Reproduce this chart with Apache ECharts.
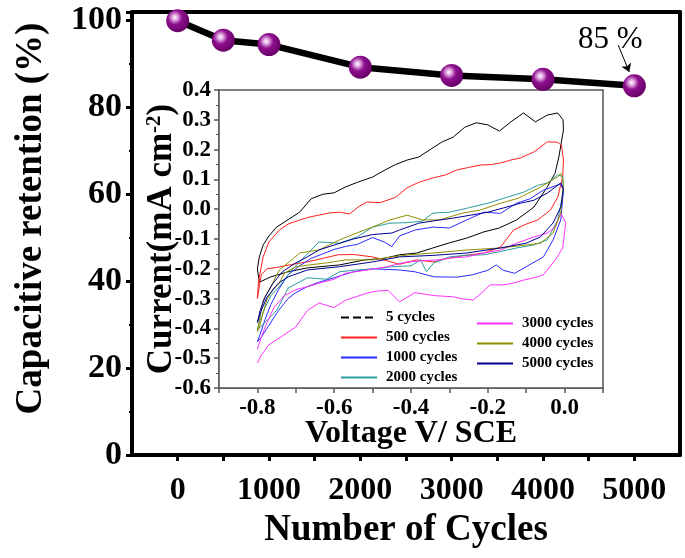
<!DOCTYPE html>
<html>
<head>
<meta charset="utf-8">
<script src="https://cdn.jsdelivr.net/npm/echarts@6/dist/echarts.min.js"></script>
<style>
html, body { margin: 0; padding: 0; background: #fff; }
#chart { width: 685px; height: 558px; }
</style>
</head>
<body>
<div id="chart"></div>
<script>
// retention vs cycles (main plot)
var cycles = [0, 500, 1000, 2000, 3000, 4000, 5000];
var retention = [100, 95.5, 94.5, 89.3, 87.4, 86.5, 85];

// CV loops for the inset, [V, mA cm-2]
var cv5 = [[-0.8,-0.2],[-0.795,-0.16],[-0.785,-0.12],[-0.77,-0.09],[-0.75,-0.06],[-0.72,-0.035],[-0.69,-0.01],[-0.66,0.035],[-0.63,0.05],[-0.6,0.055],[-0.57,0.075],[-0.54,0.09],[-0.5,0.108],[-0.47,0.13],[-0.44,0.15],[-0.41,0.165],[-0.38,0.175],[-0.35,0.2],[-0.32,0.225],[-0.29,0.242],[-0.26,0.275],[-0.23,0.29],[-0.2,0.283],[-0.17,0.262],[-0.14,0.293],[-0.107,0.323],[-0.076,0.293],[-0.045,0.316],[-0.018,0.323],[-0.004,0.3],[-0.003,0.266],[-0.015,0.175],[-0.025,0.12],[-0.045,0.075],[-0.08,0.007],[-0.125,-0.036],[-0.17,-0.063],[-0.21,-0.076],[-0.255,-0.097],[-0.3,-0.113],[-0.343,-0.13],[-0.385,-0.147],[-0.43,-0.153],[-0.47,-0.165],[-0.52,-0.17],[-0.586,-0.187],[-0.67,-0.197],[-0.72,-0.21],[-0.765,-0.227],[-0.795,-0.245],[-0.8,-0.2]];
var cv500 = [[-0.8,-0.3],[-0.797,-0.24],[-0.785,-0.16],[-0.77,-0.11],[-0.743,-0.07],[-0.72,-0.05],[-0.69,-0.036],[-0.66,-0.025],[-0.64,-0.02],[-0.61,-0.012],[-0.586,-0.01],[-0.56,-0.016],[-0.535,0.01],[-0.515,0.024],[-0.48,0.022],[-0.44,0.04],[-0.41,0.072],[-0.38,0.09],[-0.343,0.105],[-0.31,0.115],[-0.28,0.132],[-0.25,0.14],[-0.22,0.148],[-0.19,0.15],[-0.167,0.155],[-0.14,0.165],[-0.115,0.172],[-0.08,0.192],[-0.045,0.226],[-0.02,0.225],[-0.008,0.215],[-0.003,0.165],[-0.005,0.108],[-0.018,0.04],[-0.037,-0.003],[-0.07,-0.036],[-0.1,-0.05],[-0.133,-0.07],[-0.167,-0.127],[-0.21,-0.147],[-0.26,-0.155],[-0.3,-0.164],[-0.343,-0.177],[-0.385,-0.17],[-0.43,-0.185],[-0.47,-0.17],[-0.5,-0.16],[-0.55,-0.152],[-0.59,-0.153],[-0.63,-0.165],[-0.67,-0.177],[-0.71,-0.185],[-0.743,-0.194],[-0.775,-0.2],[-0.79,-0.22],[-0.8,-0.3]];
var cv1000 = [[-0.8,-0.445],[-0.793,-0.42],[-0.78,-0.37],[-0.765,-0.32],[-0.745,-0.27],[-0.72,-0.22],[-0.69,-0.19],[-0.66,-0.165],[-0.63,-0.15],[-0.6,-0.135],[-0.57,-0.125],[-0.54,-0.118],[-0.5,-0.095],[-0.47,-0.11],[-0.45,-0.125],[-0.43,-0.09],[-0.39,-0.07],[-0.343,-0.06],[-0.3,-0.063],[-0.255,-0.036],[-0.21,-0.01],[-0.167,-0.014],[-0.125,0.02],[-0.09,0.035],[-0.055,0.064],[-0.025,0.078],[-0.01,0.085],[-0.003,0.06],[-0.01,-0.036],[-0.03,-0.103],[-0.055,-0.16],[-0.1,-0.193],[-0.13,-0.215],[-0.16,-0.205],[-0.178,-0.187],[-0.2,-0.205],[-0.24,-0.22],[-0.28,-0.228],[-0.34,-0.227],[-0.39,-0.21],[-0.43,-0.204],[-0.5,-0.2],[-0.55,-0.21],[-0.6,-0.23],[-0.64,-0.245],[-0.67,-0.26],[-0.7,-0.28],[-0.72,-0.3],[-0.745,-0.34],[-0.77,-0.39],[-0.79,-0.43],[-0.8,-0.445]];
var cv2000 = [[-0.8,-0.405],[-0.795,-0.38],[-0.78,-0.33],[-0.765,-0.29],[-0.743,-0.26],[-0.72,-0.22],[-0.7,-0.19],[-0.67,-0.15],[-0.64,-0.11],[-0.61,-0.112],[-0.586,-0.114],[-0.54,-0.093],[-0.5,-0.06],[-0.455,-0.047],[-0.41,-0.045],[-0.37,-0.04],[-0.343,-0.013],[-0.3,-0.01],[-0.255,0.003],[-0.2,0.02],[-0.15,0.04],[-0.107,0.057],[-0.07,0.08],[-0.045,0.088],[-0.018,0.115],[-0.005,0.11],[-0.003,0.06],[-0.018,-0.036],[-0.045,-0.103],[-0.08,-0.12],[-0.125,-0.13],[-0.17,-0.143],[-0.21,-0.153],[-0.26,-0.155],[-0.3,-0.16],[-0.34,-0.18],[-0.36,-0.21],[-0.375,-0.17],[-0.4,-0.19],[-0.45,-0.193],[-0.5,-0.2],[-0.55,-0.205],[-0.586,-0.21],[-0.62,-0.235],[-0.67,-0.23],[-0.72,-0.265],[-0.75,-0.34],[-0.78,-0.38],[-0.8,-0.405]];
var cv3000 = [[-0.8,-0.47],[-0.79,-0.43],[-0.775,-0.38],[-0.757,-0.33],[-0.73,-0.29],[-0.7,-0.27],[-0.67,-0.26],[-0.63,-0.245],[-0.6,-0.235],[-0.57,-0.215],[-0.52,-0.205],[-0.47,-0.195],[-0.41,-0.177],[-0.36,-0.172],[-0.33,-0.17],[-0.3,-0.164],[-0.255,-0.16],[-0.21,-0.147],[-0.167,-0.137],[-0.125,-0.114],[-0.08,-0.093],[-0.045,-0.08],[-0.025,-0.06],[-0.01,-0.013],[0.003,-0.046],[-0.005,-0.13],[-0.024,-0.17],[-0.055,-0.22],[-0.08,-0.23],[-0.107,-0.238],[-0.14,-0.25],[-0.16,-0.254],[-0.194,-0.254],[-0.215,-0.28],[-0.238,-0.305],[-0.27,-0.3],[-0.29,-0.294],[-0.34,-0.29],[-0.39,-0.28],[-0.43,-0.311],[-0.46,-0.272],[-0.49,-0.275],[-0.515,-0.282],[-0.57,-0.305],[-0.6,-0.33],[-0.64,-0.315],[-0.67,-0.34],[-0.7,-0.395],[-0.74,-0.43],[-0.77,-0.455],[-0.79,-0.49],[-0.8,-0.516]];
var cv4000 = [[-0.8,-0.41],[-0.793,-0.36],[-0.785,-0.305],[-0.77,-0.27],[-0.757,-0.24],[-0.743,-0.204],[-0.72,-0.18],[-0.69,-0.147],[-0.64,-0.137],[-0.586,-0.103],[-0.542,-0.08],[-0.5,-0.06],[-0.455,-0.036],[-0.41,-0.02],[-0.37,-0.036],[-0.325,-0.036],[-0.3,-0.026],[-0.265,-0.013],[-0.22,-0.003],[-0.167,0.02],[-0.12,0.037],[-0.063,0.074],[-0.018,0.108],[-0.01,0.12],[-0.003,0.09],[-0.01,-0.013],[-0.03,-0.08],[-0.063,-0.114],[-0.1,-0.12],[-0.167,-0.13],[-0.255,-0.137],[-0.343,-0.147],[-0.403,-0.153],[-0.45,-0.16],[-0.5,-0.17],[-0.57,-0.17],[-0.62,-0.18],[-0.7,-0.193],[-0.73,-0.215],[-0.743,-0.248],[-0.76,-0.27],[-0.776,-0.305],[-0.795,-0.395],[-0.8,-0.41]];
var cv5000 = [[-0.8,-0.38],[-0.793,-0.34],[-0.78,-0.295],[-0.76,-0.25],[-0.735,-0.21],[-0.7,-0.18],[-0.67,-0.16],[-0.64,-0.137],[-0.6,-0.12],[-0.55,-0.1],[-0.5,-0.085],[-0.45,-0.08],[-0.43,-0.07],[-0.38,-0.047],[-0.325,-0.036],[-0.29,-0.03],[-0.2,-0.01],[-0.16,0.004],[-0.115,0.02],[-0.08,0.03],[-0.045,0.054],[-0.01,0.088],[-0.003,0.07],[-0.01,0.007],[-0.03,-0.046],[-0.063,-0.093],[-0.1,-0.114],[-0.167,-0.13],[-0.255,-0.147],[-0.343,-0.155],[-0.43,-0.16],[-0.5,-0.177],[-0.586,-0.193],[-0.67,-0.204],[-0.72,-0.227],[-0.745,-0.248],[-0.775,-0.295],[-0.79,-0.34],[-0.8,-0.38]];

var cvNames = ['5 cycles', '500 cycles', '1000 cycles', '2000 cycles', '3000 cycles', '4000 cycles', '5000 cycles'];
var cvColors = ['#000000', '#ff2020', '#2a2aff', '#2a9d9d', '#ff30ff', '#8f8f00', '#000090'];
var cvData = [cv5, cv500, cv1000, cv2000, cv3000, cv4000, cv5000];

var FONT = 'Liberation Serif';

var myChart = echarts.init(document.getElementById('chart'));

var series = [];
// main retention line with purple "balls"
series.push({
    type: 'line',
    xAxisIndex: 0,
    yAxisIndex: 0,
    data: cycles.map(function (c, i) { return [c, retention[i]]; }),
    symbol: 'circle',
    symbolSize: 23,
    lineStyle: { color: '#000', width: 6.5 },
    itemStyle: {
        color: {
            type: 'radial', x: 0.38, y: 0.36, r: 0.68,
            colorStops: [
                { offset: 0, color: '#ffffff' },
                { offset: 0.18, color: '#e2a8e2' },
                { offset: 0.45, color: '#8e0f8e' },
                { offset: 1, color: '#640064' }
            ]
        },
        borderWidth: 0
    },
    z: 5,
    markLine: {
        silent: true,
        symbol: ['none', 'arrow'],
        symbolSize: 8,
        label: { show: false },
        lineStyle: { color: '#000', width: 1, type: 'solid' },
        data: [[{ coord: [4823, 94.4] }, { coord: [4944, 88.2] }]]
    }
});

for (var k = 0; k < cvData.length; k++) {
    series.push({
        name: cvNames[k],
        type: 'line',
        xAxisIndex: 1,
        yAxisIndex: 1,
        data: cvData[k],
        symbol: 'none',
        lineStyle: { color: cvColors[k], width: 1 },
        itemStyle: { color: cvColors[k] },
        z: 3
    });
}

// legend entries, the 5 cycles sample is dashed in the original
function legendItems(names) {
    return names.map(function (n) {
        var it = { name: n };
        if (n === '5 cycles') it.lineStyle = { type: 'dashed' };
        return it;
    });
}

var legendText = { fontFamily: FONT, fontWeight: 'bold', fontSize: 15, color: '#000', padding: [0, 0, 0, 4] };

// frame-only axes (top / right of the main box)
function frameAxis(gridIndex, pos, min, max, color, width) {
    return {
        type: 'value', gridIndex: gridIndex, position: pos, min: min, max: max,
        axisLine: { onZero: false, lineStyle: { color: color, width: width } },
        axisTick: { show: false }, axisLabel: { show: false }, splitLine: { show: false }
    };
}

var option = {
    animation: false,
    backgroundColor: '#fff',
    grid: [
        { left: 132, top: 12, width: 548, height: 443, outerBoundsMode: 'none' },
        { left: 219, top: 90, width: 384, height: 298, show: true, backgroundColor: '#fff', borderColor: '#555', borderWidth: 1.5, z: 1, outerBoundsMode: 'none' }
    ],
    legend: [
        {
            data: legendItems(cvNames.slice(0, 4)),
            orient: 'vertical', left: 340, top: 310, padding: 0,
            itemWidth: 36, itemHeight: 14, itemGap: 5,
            itemStyle: { opacity: 0 },
            textStyle: legendText
        },
        {
            data: legendItems(cvNames.slice(4)),
            orient: 'vertical', left: 476, top: 316, padding: 0,
            itemWidth: 36, itemHeight: 14, itemGap: 5,
            itemStyle: { opacity: 0 },
            textStyle: legendText
        }
    ],
    xAxis: [
        {
            type: 'value', gridIndex: 0,
            min: -500, max: 5500, interval: 500,
            name: 'Number of Cycles', nameLocation: 'middle', nameGap: 57, nameMoveOverlap: false,
            nameTextStyle: { fontFamily: FONT, fontWeight: 'bold', fontSize: 37, color: '#000' },
            axisLine: { onZero: false, lineStyle: { color: '#000', width: 4 } },
            axisTick: { inside: false, length: 6, lineStyle: { color: '#000', width: 3 } },
            axisLabel: {
                margin: 20, fontFamily: FONT, fontWeight: 'bold', fontSize: 32, color: '#000',
                showMaxLabel: false, showMinLabel: false,
                formatter: function (v) { return (v >= 0 && v <= 5000 && v % 1000 === 0) ? String(v) : ''; }
            },
            splitLine: { show: false }
        },
        {
            type: 'value', gridIndex: 1,
            min: -0.9, max: 0.1, interval: 0.1,
            name: 'Voltage V/ SCE', nameLocation: 'middle', nameGap: 30, nameMoveOverlap: false,
            nameTextStyle: { fontFamily: FONT, fontWeight: 'bold', fontSize: 32, color: '#000' },
            axisLine: { onZero: false, lineStyle: { color: '#555', width: 1.5 } },
            axisTick: { inside: false, length: 5, lineStyle: { color: '#555', width: 1.5 } },
            axisLabel: {
                margin: 9, fontFamily: FONT, fontWeight: 'bold', fontSize: 23, color: '#000',
                formatter: function (v) {
                    var t = Math.round(v * 10);
                    if (t % 2 !== 0 || t < -8 || t > 0) return '';
                    return (t / 10).toFixed(1);
                }
            },
            splitLine: { show: false }
        },
        frameAxis(0, 'top', -500, 5500, '#000', 4)
    ],
    yAxis: [
        {
            type: 'value', gridIndex: 0,
            min: 0, max: 102, interval: 20,
            name: 'Capacitive retention (%)', nameLocation: 'middle', nameGap: 82, nameMoveOverlap: false,
            nameTextStyle: { fontFamily: FONT, fontWeight: 'bold', fontSize: 37, color: '#000', padding: [0, 0, 0, 30] },
            axisLine: { onZero: false, lineStyle: { color: '#000', width: 4 } },
            axisTick: { inside: false, length: 6, lineStyle: { color: '#000', width: 3 } },
            minorTick: { show: true, splitNumber: 2, length: 3, lineStyle: { color: '#000', width: 2 } },
            axisLabel: {
                margin: 10, fontFamily: FONT, fontWeight: 'bold', fontSize: 34, color: '#000',
                showMaxLabel: false
            },
            splitLine: { show: false }
        },
        {
            type: 'value', gridIndex: 1,
            min: -0.6, max: 0.4, interval: 0.1,
            name: '{a|Current(mA cm}{s|-2}{a|)}', nameLocation: 'middle', nameGap: 40, nameMoveOverlap: false,
            nameTextStyle: {
                rich: {
                    a: { fontFamily: FONT, fontWeight: 'bold', fontSize: 35, color: '#000' },
                    s: { fontFamily: FONT, fontWeight: 'bold', fontSize: 21, color: '#000', verticalAlign: 'top' }
                }
            },
            axisLine: { onZero: false, lineStyle: { color: '#555', width: 1.5 } },
            axisTick: { inside: false, length: 5, lineStyle: { color: '#555', width: 1.5 } },
            minorTick: { show: true, splitNumber: 2, length: 3, lineStyle: { color: '#555', width: 1 } },
            axisLabel: {
                margin: 8, fontFamily: FONT, fontWeight: 'bold', fontSize: 23, color: '#000',
                formatter: function (v) { return (Math.round(v * 10) / 10).toFixed(1); }
            },
            splitLine: { show: false }
        },
        frameAxis(0, 'right', 0, 102, '#000', 4)
    ],
    graphic: [
        {
            type: 'text', left: 578, top: 24, z: 10,
            style: { text: '85 %', fontFamily: FONT, fontSize: 31, fill: '#000' }
        }
    ],
    series: series
};

myChart.setOption(option);
</script>
</body>
</html>
